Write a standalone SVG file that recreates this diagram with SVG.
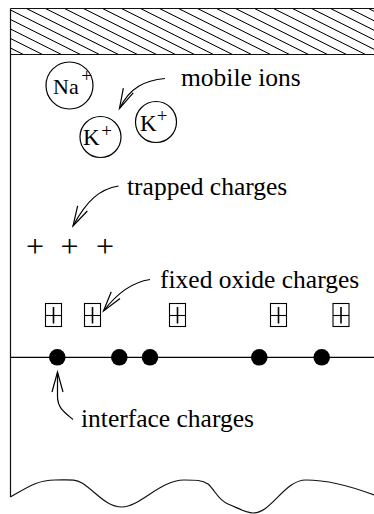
<svg xmlns="http://www.w3.org/2000/svg" width="374" height="514" viewBox="0 0 374 514">
  <style>
    .edge { fill: none; stroke: #111; stroke-width: 1.2; }
    .ring { fill: none; stroke: #000; stroke-width: 1.2; }
    .fixed rect { fill: none; stroke: #000; stroke-width: 1.1; }
    .fixed line { stroke: #000; stroke-width: 1.1; }
    .fixed line.v { stroke-width: 1.6; }
    .dot { fill: #000; }
    .wire { fill: none; stroke: #000; stroke-width: 1.2; }
  </style>
  <defs>
    <pattern id="hatch" patternUnits="userSpaceOnUse" width="12" height="8.5" patternTransform="rotate(26.57)">
      <line x1="-1" y1="4.25" x2="13" y2="4.25" stroke="#000" stroke-width="1"/>
    </pattern>
    <marker id="head" markerUnits="userSpaceOnUse" orient="auto" refX="0" refY="0" markerWidth="30" markerHeight="30" viewBox="-25 -15 30 30" overflow="visible">
      <path d="M-20,-5.5 L0,0 L-20,5.5" fill="none" stroke="#000" stroke-width="1.2"/>
    </marker>
  </defs>

  <!-- metal gate (hatched) -->
  <g id="gate">
    <rect x="10.5" y="8.5" width="370" height="46" fill="url(#hatch)"/>
    <path class="edge" d="M10.5,8.5 H374 M10.5,54.5 H374"/>
  </g>

  <!-- oxide layer and substrate outline -->
  <g id="oxide">
    <path class="edge" d="M10.5,8.5 V497"/>
  </g>
  <g id="substrate">
    <path class="edge" d="M10.5,497 C28,487 38,480 55,480 C70,480 75,479 82,483 C95,491 106,507 122,507 C140,507 160,480 184,480 C196,480 202,480 208,484 C215,490 218,500 228,504 C238,508 246,513 253,513 C272,513 284,480 306,480 C326,480 345,484 374,495"/>
    <line class="wire" x1="10.5" y1="357.3" x2="374" y2="357.3"/>
  </g>

  <g font-family="'Liberation Serif', 'Times New Roman', serif" fill="#000">
    <!-- mobile ions -->
    <g id="ion-na">
      <circle class="ring" cx="69.5" cy="85.5" r="23.5"/>
      <text x="53" y="94" font-size="22">Na</text>
      <text x="86.7" y="82" font-size="19" text-anchor="middle">+</text>
    </g>
    <g id="ion-k1">
      <circle class="ring" cx="100.5" cy="137" r="20.5"/>
      <text x="83" y="144.5" font-size="23">K</text>
      <text x="106.7" y="136.5" font-size="19" text-anchor="middle">+</text>
    </g>
    <g id="ion-k2">
      <circle class="ring" cx="156" cy="122" r="20.5"/>
      <text x="140" y="131" font-size="23">K</text>
      <text x="162" y="122" font-size="19" text-anchor="middle">+</text>
    </g>

    <!-- trapped charges -->
    <g id="trapped" font-size="32" text-anchor="middle">
      <text x="35" y="256.5">+</text>
      <text x="69.5" y="256.5">+</text>
      <text x="105" y="256.5">+</text>
    </g>

    <!-- labels -->
    <g id="labels" font-size="25.5">
      <text x="181" y="86">mobile ions</text>
      <text x="127" y="195">trapped charges</text>
      <text x="160" y="288">fixed oxide charges</text>
      <text x="81" y="427">interface charges</text>
    </g>
  </g>

  <!-- fixed oxide charges -->
  <g id="fixed" class="fixed">
    <g id="fixed-1"><rect x="45.5" y="303.5" width="16" height="23"/><line x1="45.5" y1="315.5" x2="61.5" y2="315.5"/><line class="v" x1="53.5" y1="307" x2="53.5" y2="323.5"/></g>
    <g id="fixed-2"><rect x="84.5" y="303.5" width="16" height="23"/><line x1="84.5" y1="315.5" x2="100.5" y2="315.5"/><line class="v" x1="92.5" y1="307" x2="92.5" y2="323.5"/></g>
    <g id="fixed-3"><rect x="169.5" y="303.5" width="16" height="23"/><line x1="169.5" y1="315.5" x2="185.5" y2="315.5"/><line class="v" x1="177.5" y1="307" x2="177.5" y2="323.5"/></g>
    <g id="fixed-4"><rect x="270.5" y="303.5" width="16" height="23"/><line x1="270.5" y1="315.5" x2="286.5" y2="315.5"/><line class="v" x1="278.5" y1="307" x2="278.5" y2="323.5"/></g>
    <g id="fixed-5"><rect x="333" y="303.5" width="16" height="23"/><line x1="333" y1="315.5" x2="349" y2="315.5"/><line class="v" x1="341" y1="307" x2="341" y2="323.5"/></g>
  </g>

  <!-- interface charges -->
  <g id="interface">
    <circle class="dot" cx="57.3" cy="357.3" r="8.3"/>
    <circle class="dot" cx="119.3" cy="357.3" r="8.3"/>
    <circle class="dot" cx="150" cy="357.3" r="8.3"/>
    <circle class="dot" cx="259.3" cy="357.3" r="8.3"/>
    <circle class="dot" cx="321.7" cy="357.3" r="8.3"/>
  </g>

  <!-- pointer arrows -->
  <g id="connectors" fill="none" stroke="#000" stroke-width="1.2">
    <path d="M165,78.5 C145,80.5 130,87 119.5,108.5" marker-end="url(#head)"/>
    <path d="M118.5,186 C100,189 87,200 73,226" marker-end="url(#head)"/>
    <path d="M150,279.5 C133,282 118,292 103.5,311" marker-end="url(#head)"/>
    <path d="M73,419.5 C64,412 57.5,408 57.5,396 L57.5,372" marker-end="url(#head)"/>
  </g>
</svg>
